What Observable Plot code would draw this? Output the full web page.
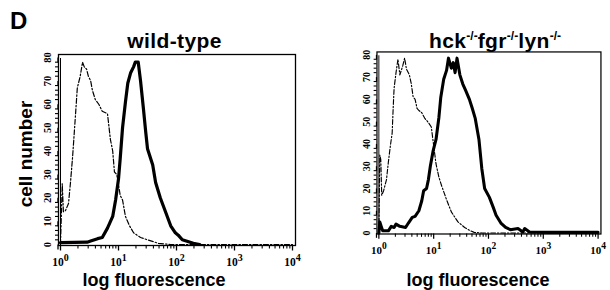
<!DOCTYPE html>
<html><head><meta charset="utf-8">
<script src="https://cdn.jsdelivr.net/npm/d3@7"></script>
<script src="https://cdn.jsdelivr.net/npm/@observablehq/plot@0.6"></script>
<style>
html,body{margin:0;padding:0;background:#fff;width:610px;height:290px;overflow:hidden;}
#root{position:relative;width:610px;height:290px;font-family:"Liberation Sans",Arial,sans-serif;font-weight:bold;color:#000;overflow:hidden}
.abs{position:absolute;white-space:nowrap;line-height:1}
.ctr{transform:translateX(-50%)}
sup{font-size:12px;vertical-align:0;position:relative;top:-8px;letter-spacing:0}
#left,#right{position:absolute;top:0}
#left{left:0}
#right{left:305px}
</style></head><body><div id="root">
<div id="left"></div>
<div id="right"></div>
<div class="abs" style="left:10px;top:9px;font-size:24px">D</div>
<div class="abs ctr" id="t1" style="left:174.5px;top:29.5px;font-size:21px;letter-spacing:0.4px">wild-type</div>
<div class="abs ctr" id="t2" style="left:495px;top:29.5px;font-size:21px;letter-spacing:0.4px">hck<sup>-/-</sup>fgr<sup>-/-</sup>lyn<sup>-/-</sup></div>
<div class="abs" style="left:25px;top:154px;font-size:19px;transform:translate(-50%,-50%) rotate(-90deg)">cell number</div>
<div class="abs ctr" style="left:154px;top:271px;font-size:18px">log fluorescence</div>
<div class="abs ctr" style="left:478px;top:271px;font-size:18px">log fluorescence</div>
</div>
<script>
// ---- data (x as log10 fluorescence exponent, y as cell number) ----
const wtControlLog   = [0, 0.03, 0.05, 0.086, 0.138, 0.172, 0.207, 0.224, 0.26, 0.29, 0.34, 0.38, 0.41, 0.45, 0.48, 0.52, 0.55, 0.60, 0.66, 0.72, 0.81, 0.86, 0.90, 0.93, 0.97, 1.03, 1.07, 1.12, 1.19, 1.26, 1.38, 1.5, 1.69, 1.9, 4];
const wtControlCount = [0, 26, 14, 14.5, 17.5, 26.5, 37, 43, 56, 67, 72, 78, 76, 75, 72, 70, 66, 62, 60, 57, 56, 45, 40, 31, 30, 21, 19, 12, 8, 5, 3, 2, 0.5, 0, 0];
const wtStainLog     = [0, 0.46, 0.52, 0.64, 0.72, 0.81, 0.90, 0.95, 1.0, 1.03, 1.07, 1.12, 1.16, 1.21, 1.26, 1.29, 1.34, 1.38, 1.43, 1.47, 1.50, 1.59, 1.64, 1.72, 1.81, 1.90, 1.98, 2.03, 2.10, 2.29, 2.4];
const wtStainCount   = [0.8, 1, 1.5, 2.5, 3, 7, 12, 19, 28, 37, 50, 61, 69, 73.5, 76, 78, 78, 70, 58, 48, 41, 34, 26.5, 20, 14, 8, 5, 4, 2, 0.5, 0];
const koControlLog   = [0, 0.017, 0.035, 0.052, 0.087, 0.139, 0.174, 0.209, 0.243, 0.261, 0.278, 0.313, 0.348, 0.383, 0.435, 0.470, 0.504, 0.557, 0.591, 0.626, 0.661, 0.696, 0.730, 0.783, 0.835, 0.904, 0.957, 0.991, 1.043, 1.096, 1.148, 1.235, 1.322, 1.443, 1.565, 1.670, 1.739, 1.88, 4];
const koControlCount = [0, 35, 33, 17, 19, 24, 32, 39, 45, 56, 65, 72, 78, 71, 75, 78.5, 73.5, 71, 67, 61, 60, 56, 55, 54, 51.6, 49.6, 47.6, 41, 31, 25, 21, 15, 9.5, 5, 2.5, 1, 0.3, 0, 0];
const koStainLog     = [0, 0.017, 0.043, 0.070, 0.174, 0.226, 0.278, 0.313, 0.383, 0.487, 0.539, 0.609, 0.661, 0.730, 0.783, 0.817, 0.870, 0.904, 0.939, 0.991, 1.043, 1.096, 1.130, 1.183, 1.235, 1.270, 1.322, 1.357, 1.391, 1.426, 1.478, 1.530, 1.583, 1.652, 1.704, 1.757, 1.826, 1.878, 1.930, 2.017, 2.087, 2.139, 2.226, 2.313, 2.400, 2.539, 2.626, 2.661, 2.748, 3.1, 4];
const koStainCount   = [0, 5, 3, 1, 1, 3, 2.5, 4, 3, 2.5, 4.5, 7, 7.5, 10, 14.5, 19, 20, 24, 30, 37, 42, 52, 61, 69, 73, 78.5, 74, 76.5, 72, 78.5, 71, 67, 64, 60, 56, 51.6, 42, 29, 20, 16, 11.5, 8, 4.5, 2.5, 1.5, 2, 0.5, 2, 0.5, 0.3, 0.3];

// ---- axis ticks ----
const yTicks = [0, 10, 20, 30, 40, 50, 60, 70, 80];
const yMinorTicks = [2, 4, 6, 8, 12, 14, 16, 18, 22, 24, 26, 28, 32, 34, 36, 38, 42, 44, 46, 48, 52, 54, 56, 58, 62, 64, 66, 68, 72, 74, 76, 78];
const xTicks = [1, 10, 100, 1000, 10000];
const xTickExp = ["0", "1", "2", "3", "4"];
const xMinorTicks = [2, 3, 4, 5, 6, 7, 8, 9, 20, 30, 40, 50, 60, 70, 80, 90, 200, 300, 400, 500, 600, 700, 800, 900, 2000, 3000, 4000, 5000, 6000, 7000, 8000, 9000];

function panel(el, {width, marginLeft, ctrlLog, ctrlCount, stainLog, stainCount}) {
  const ctrl = ctrlLog.map((e, i) => ({x: Math.pow(10, e), y: ctrlCount[i]}));
  const stain = stainLog.map((e, i) => ({x: Math.pow(10, e), y: stainCount[i]}));
  const svg = Plot.plot({
    width, height: 290,
    marginLeft, marginRight: 10, marginTop: 54, marginBottom: 45,
    insetLeft: 2, insetRight: 3, insetTop: 3, insetBottom: 1,
    x: {type: "log", domain: [1, 10000]},
    y: {domain: [0, 80]},
    style: {background: "transparent", fontFamily: "'Liberation Serif', 'Times New Roman', serif", fontWeight: "bold", color: "#000", overflow: "visible"},
    marks: [
      Plot.line(ctrl, {x: "x", y: "y", stroke: "#000", strokeWidth: 1.2, strokeDasharray: "5,2,1.5,2"}),
      Plot.line(stain, {x: "x", y: "y", stroke: "#000", strokeWidth: 3.2}),
      Plot.frame({stroke: "#000", strokeWidth: 1.3}),
      Plot.ruleX([1], {y1: 0, y2: 80, insetTop: -3, insetBottom: -1, stroke: "#000", strokeWidth: 1}),
      Plot.axisY({ticks: yMinorTicks, tickSize: 3, tickFormat: () => "", label: null, strokeWidth: 1.1}),
      Plot.axisY({ticks: yTicks, tickSize: 5, tickPadding: 6, label: null, rotate: -90, textAnchor: "middle", fontSize: 10.5, strokeWidth: 1.3}),
      Plot.axisX({ticks: xMinorTicks, tickSize: 3.5, tickFormat: () => "", label: null, strokeWidth: 1.1}),
      Plot.axisX({ticks: xTicks, tickSize: 5.5, tickPadding: 7, label: null, fontSize: 11.5, strokeWidth: 1.3,
        tickFormat: d => "10|" + xTickExp[xTicks.indexOf(d)]})
    ]
  });
  d3.select(svg).selectAll("text").each(function() {
    const t = this.textContent;
    if (t.includes("|")) {
      const [b, e] = t.split("|");
      const s = d3.select(this);
      s.text(b);
      s.append("tspan").attr("dy", "-5").attr("font-size", 10).text(e);
    }
  });
  el.appendChild(svg);
}

panel(document.getElementById("left"), {width: 305, marginLeft: 58,
  ctrlLog: wtControlLog, ctrlCount: wtControlCount, stainLog: wtStainLog, stainCount: wtStainCount});
panel(document.getElementById("right"), {width: 320, marginLeft: 75,
  ctrlLog: koControlLog, ctrlCount: koControlCount, stainLog: koStainLog, stainCount: koStainCount});
</script>
</body></html>
